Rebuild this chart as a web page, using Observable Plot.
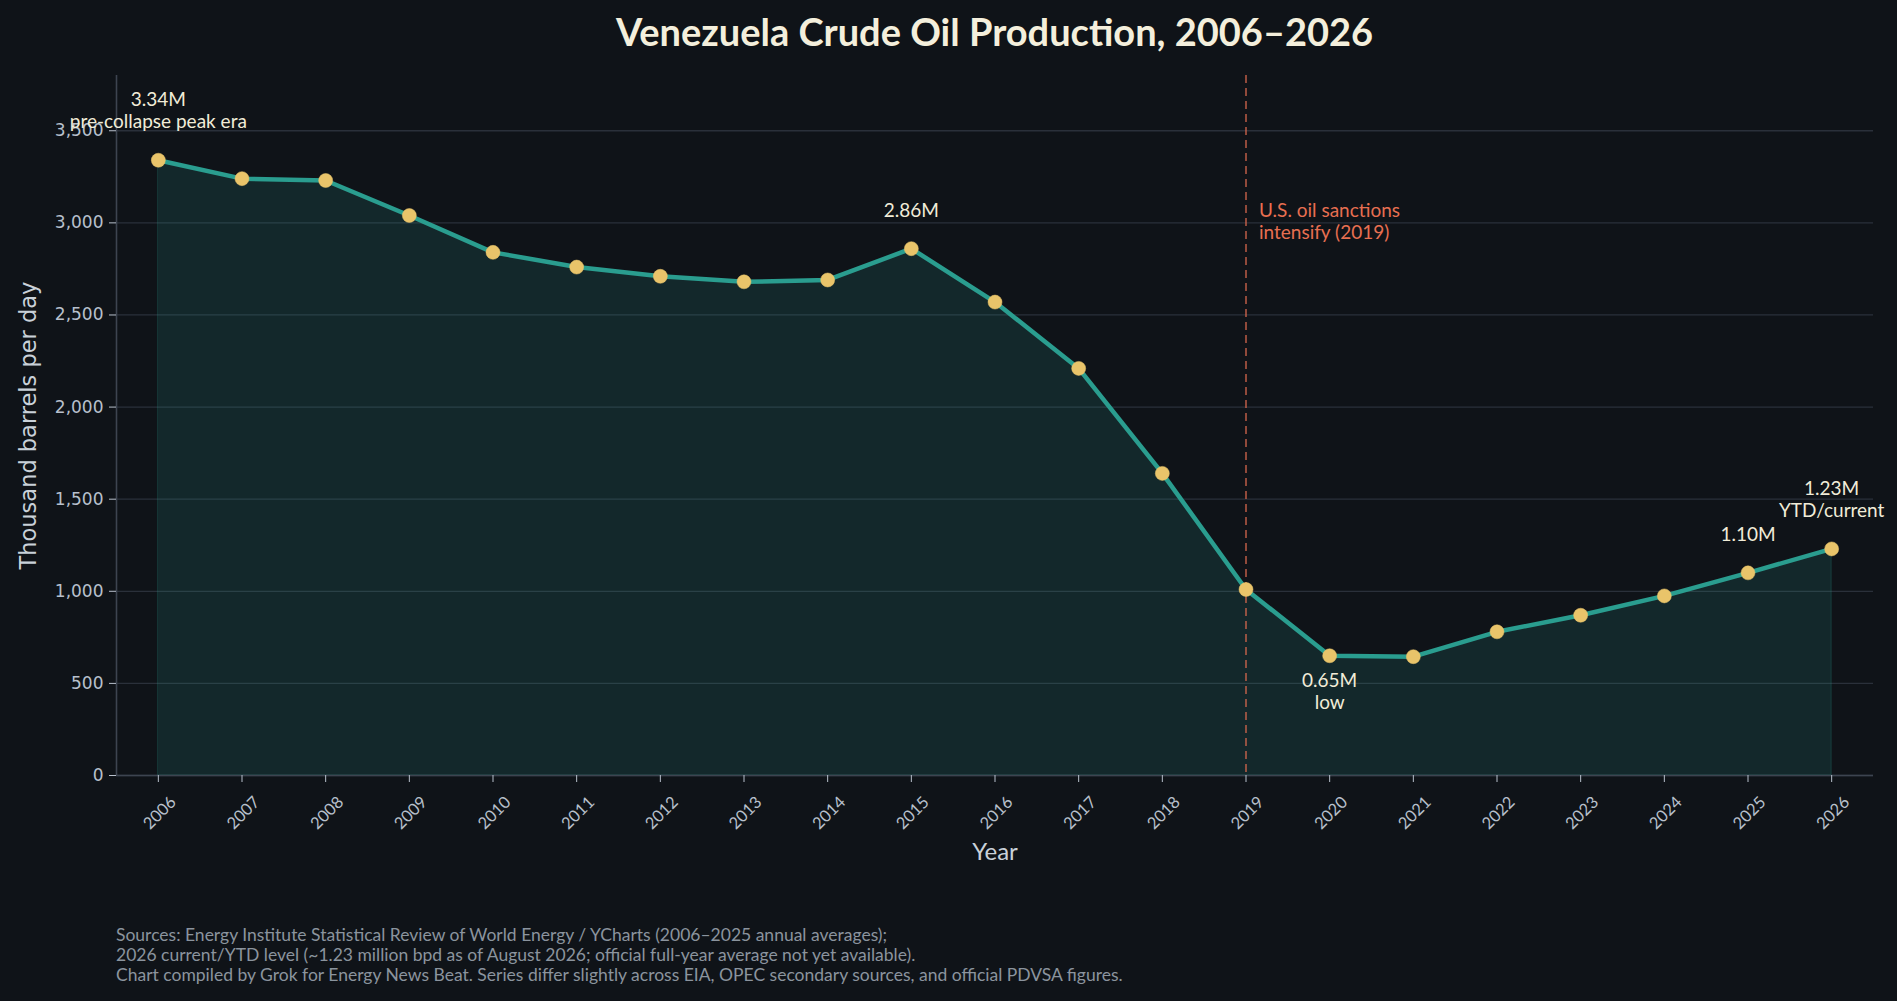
<!DOCTYPE html>
<html>
<head>
<meta charset="utf-8">
<script src="https://cdn.jsdelivr.net/npm/d3@7"></script>
<script src="https://cdn.jsdelivr.net/npm/@observablehq/plot@0.6"></script>
<style>
  html, body { margin: 0; padding: 0; background: #0f1318; }
  #wrap { position: relative; width: 1897px; height: 1001px; background: #0f1318; overflow: hidden; }
  #title { position: absolute; left: 116px; width: 1757px; top: 8px; text-align: center;
           font-family: Lato, sans-serif; font-weight: 700; font-size: 38px; color: #f4efdc; }
  #chart { position: absolute; left: 0; top: 0; }
  #footer { position: absolute; left: 116px; top: 925px; font-family: Lato, sans-serif; font-size: 17.5px;
            line-height: 20px; color: #8b949e; }
</style>
</head>
<body>
<div id="wrap">
  <div id="chart"></div>
  <div id="title">Venezuela Crude Oil Production, 2006–2026</div>
  <div id="footer"></div>
</div>
<script>
// ---- data ----
const years = [2006, 2007, 2008, 2009, 2010, 2011, 2012, 2013, 2014, 2015, 2016, 2017, 2018, 2019, 2020, 2021, 2022, 2023, 2024, 2025, 2026];
const production = [3340, 3240, 3230, 3040, 2840, 2760, 2710, 2680, 2690, 2860, 2570, 2210, 1640, 1010, 650, 645, 780, 870, 975, 1100, 1230];
const yTicks = [0, 500, 1000, 1500, 2000, 2500, 3000, 3500];
const xDomain = [2005.5, 2026.5];
const yDomain = [0, 3800];

const aboveYears = [2006, 2015, 2025, 2026];
const aboveLabels = ["3.34M\npre-collapse peak era", "2.86M", "1.10M", "1.23M\nYTD/current"];
const belowYears = [2020];
const belowLabels = ["0.65M\nlow"];

const sanctionYear = 2019;
const sanctionLabel = "U.S. oil sanctions\nintensify (2019)";

const footerLines = [
  "Sources: Energy Institute Statistical Review of World Energy / YCharts (2006–2025 annual averages);",
  "2026 current/YTD level (~1.23 million bpd as of August 2026; official full-year average not yet available).",
  "Chart compiled by Grok for Energy News Beat. Series differ slightly across EIA, OPEC secondary sources, and official PDVSA figures."
];

// ---- build ----
const data = years.map((y, i) => ({year: y, value: production[i]}));
const valueOf = new Map(data.map(d => [d.year, d.value]));
const above = aboveYears.map((y, i) => ({year: y, value: valueOf.get(y), label: aboveLabels[i]}));
const below = belowYears.map((y, i) => ({year: y, value: valueOf.get(y), label: belowLabels[i]}));

const TEAL = "#2a9d8f", GOLD = "#e9c46a", CORAL = "#e76f51";
const tickColor = "#b8c0cc";

const chart = Plot.plot({
  width: 1897,
  height: 880,
  marginLeft: 116,
  marginRight: 24,
  marginTop: 75,
  marginBottom: 105,
  style: {background: "transparent", overflow: "visible"},
  x: {domain: xDomain},
  y: {domain: yDomain},
  marks: [
    Plot.gridY(yTicks, {stroke: "#2a303a", strokeOpacity: 1, strokeWidth: 1.3}),
    Plot.areaY(data, {x: "year", y: "value", fill: TEAL, fillOpacity: 0.16, stroke: TEAL, strokeOpacity: 0.25, strokeWidth: 1}),
    Plot.ruleX([sanctionYear], {stroke: "#d9694f", strokeOpacity: 0.8, strokeWidth: 1.6, strokeDasharray: "8,5"}),
    Plot.lineY(data, {x: "year", y: "value", stroke: TEAL, strokeWidth: 4.5, strokeLinejoin: "round"}),
    Plot.dot(data, {x: "year", y: "value", r: 7, fill: GOLD, stroke: GOLD, strokeWidth: 0.5}),
    Plot.ruleX([xDomain[0]], {stroke: "#3d4450", strokeWidth: 1.6}),
    Plot.ruleY([0], {stroke: "#3d4450", strokeWidth: 1.6}),
    Plot.axisY(yTicks, {
      tickFormat: d3.format(","), tickSize: 7, tickPadding: 6, stroke: tickColor,
      fill: tickColor, fontSize: 17, fontFamily: "DejaVu Sans", label: null
    }),
    Plot.axisX(years, {
      tickFormat: () => "", tickSize: 7, stroke: tickColor, label: null
    }),
    Plot.axisX(years, {
      tickFormat: d => String(d), tickSize: 0, tickRotate: -45, tickPadding: 24, dx: 15,
      fill: tickColor, fontSize: 16.5, fontFamily: "Lato", label: null
    }),
    Plot.text(["Thousand barrels per day"], {
      frameAnchor: "left", rotate: -90, dx: -88, fontSize: 22.5, fontFamily: "DejaVu Sans",
      fill: "#c9d1d9", textAnchor: "middle", lineAnchor: "middle"
    }),
    Plot.text(["Year"], {
      frameAnchor: "bottom", dy: 77, fontSize: 24, fontFamily: "Lato",
      fill: "#c9d1d9", lineAnchor: "middle"
    }),
    Plot.text(above, {
      x: "year", y: "value", text: "label", dy: -32, lineAnchor: "bottom", lineHeight: 1.16,
      fontSize: 19, fontFamily: "Lato", fill: "#f1ecd8"
    }),
    Plot.text(below, {
      x: "year", y: "value", text: "label", dy: 16, lineAnchor: "top", lineHeight: 1.16,
      fontSize: 19, fontFamily: "Lato", fill: "#f1ecd8"
    }),
    Plot.text([sanctionLabel], {
      x: () => sanctionYear, frameAnchor: "top", dx: 13, dy: 126, textAnchor: "start", lineAnchor: "top",
      lineHeight: 1.16, fontSize: 19, fontFamily: "Lato", fill: CORAL
    })
  ]
});
document.getElementById("chart").appendChild(chart);
document.getElementById("footer").innerHTML = footerLines.map(l => `<div>${l}</div>`).join("");
</script>
</body>
</html>
